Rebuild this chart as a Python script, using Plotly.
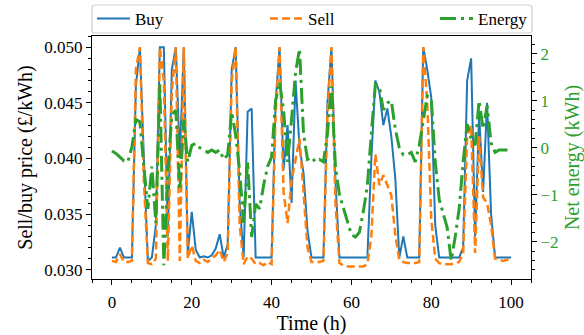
import plotly.graph_objects as go

hours = list(range(0, 101))

buy_price = [
    0.0311, 0.0311, 0.0320, 0.0311, 0.0311, 0.0311, 0.0465, 0.0500, 0.0400, 0.0308,
    0.0311, 0.0340, 0.0500, 0.0500, 0.0330, 0.0480, 0.0500, 0.0400, 0.0500, 0.0315,
    0.0352, 0.0318, 0.0311, 0.0312, 0.0311, 0.0313, 0.0319, 0.0332, 0.0311, 0.0323,
    0.0480, 0.0500, 0.0360, 0.0311, 0.0442, 0.0445, 0.0311, 0.0311, 0.0311, 0.0311,
    0.0311, 0.0450, 0.0500, 0.0390, 0.0430, 0.0360, 0.0470, 0.0410, 0.0387, 0.0335,
    0.0311, 0.0311, 0.0311, 0.0311, 0.0450, 0.0500, 0.0380, 0.0311, 0.0311, 0.0311,
    0.0311, 0.0311, 0.0311, 0.0311, 0.0311, 0.0400, 0.0470, 0.0460, 0.0430, 0.0445,
    0.0420, 0.0382, 0.0311, 0.0330, 0.0311, 0.0311, 0.0311, 0.0311, 0.0500, 0.0480,
    0.0455, 0.0340, 0.0311, 0.0311, 0.0311, 0.0311, 0.0311, 0.0311, 0.0320, 0.0470,
    0.0490, 0.0330, 0.0440, 0.0370, 0.0450, 0.0350, 0.0311, 0.0311, 0.0311, 0.0311,
    0.0311,
]

sell_price = [
    0.0308, 0.0307, 0.0314, 0.0307, 0.0307, 0.0308, 0.0480, 0.0500, 0.0380, 0.0306,
    0.0305, 0.0310, 0.0500, 0.0470, 0.0308, 0.0460, 0.0500, 0.0308, 0.0500, 0.0310,
    0.0322, 0.0308, 0.0306, 0.0309, 0.0307, 0.0310, 0.0313, 0.0318, 0.0307, 0.0315,
    0.0470, 0.0500, 0.0340, 0.0305, 0.0312, 0.0310, 0.0305, 0.0306, 0.0304, 0.0307,
    0.0305, 0.0440, 0.0500, 0.0370, 0.0342, 0.0380, 0.0400, 0.0418, 0.0370, 0.0320,
    0.0307, 0.0307, 0.0307, 0.0308, 0.0440, 0.0500, 0.0360, 0.0306, 0.0304, 0.0303,
    0.0303, 0.0303, 0.0303, 0.0303, 0.0305, 0.0330, 0.0404, 0.0376, 0.0385, 0.0376,
    0.0367, 0.0331, 0.0309, 0.0307, 0.0306, 0.0306, 0.0306, 0.0307, 0.0500, 0.0451,
    0.0346, 0.0310, 0.0306, 0.0305, 0.0305, 0.0305, 0.0306, 0.0307, 0.0315, 0.0420,
    0.0430, 0.0315, 0.0420, 0.0365, 0.0360, 0.0340, 0.0310, 0.0309, 0.0308, 0.0309,
    0.0309,
]

net_energy = [
    -0.07, -0.12, -0.20, -0.28, -0.30, 0.02, 0.60, 0.55, -0.40, -1.30,
    -0.40, -1.60, 1.35, -2.50, -0.50, 0.70, 0.80, -0.90, 0.60, -0.30,
    0.05, 0.09, 0.00, -0.05, -0.10, -0.05, -0.10, -0.05, -0.25, -0.15,
    0.76, 0.27, -0.50, -1.60, -0.30, -1.90, -1.20, -1.30, -0.80, -0.40,
    -0.20, 1.00, 1.40, 0.80, -0.30, 0.60, 1.60, 2.10, 0.30, -0.25,
    -0.20, -0.30, -0.25, -0.30, 0.30, 1.30, -0.40, -1.00, -1.30, -1.60,
    -1.85, -1.90, -1.80, -1.35, -0.80, 0.30, 1.35, 1.30, 0.80, 0.95,
    1.00, 0.40, 0.00, -0.15, -0.15, -0.10, -0.30, 0.05, 0.60, 1.10,
    1.05, -0.30, -1.10, -1.40, -1.70, -2.40, -1.90, -1.30, -0.30, 0.50,
    0.20, 0.05, 1.00, 0.40, 0.90, 0.10, -0.10, -0.05, -0.05, -0.05,
    -0.05,
]

FONT = "Liberation Serif"
GREEN = "#2ca02c"

fig = go.Figure()
fig.add_trace(go.Scatter(x=hours, y=buy_price, name="Buy", mode="lines", legend="legend",
                         line=dict(color="#1f77b4", width=2)))
fig.add_trace(go.Scatter(x=hours, y=sell_price, name="Sell", mode="lines", legend="legend2",
                         line=dict(color="#ff7f0e", width=2.5, dash="8px,4px")))
fig.add_trace(go.Scatter(x=hours, y=net_energy, name="Energy", mode="lines", yaxis="y2",
                         legend="legend3",
                         line=dict(color=GREEN, width=3, dash="16px,5px,3px,5px")))

# legend frame (paper coords; plot area is 439 x 243 px)
PW, PH = 439.0, 243.0
x0, x1 = 0.0, 440.0 / PW
y0 = (279.0 - 33.0) / PH
y1 = (279.0 - 5.0) / PH
rx, ry = 3.0 / PW, 3.0 / PH
frame_path = (
    f"M {x0+rx},{y1} L {x1-rx},{y1} Q {x1},{y1} {x1},{y1-ry} "
    f"L {x1},{y0+ry} Q {x1},{y0} {x1-rx},{y0} "
    f"L {x0+rx},{y0} Q {x0},{y0} {x0},{y0+ry} "
    f"L {x0},{y1-ry} Q {x0},{y1} {x0+rx},{y1} Z"
)

leg_common = dict(orientation="h", yanchor="middle", y=(279.0 - 19.0) / PH, xanchor="left",
                  bgcolor="rgba(0,0,0,0)", borderwidth=0, itemwidth=33,
                  font=dict(family=FONT, size=17, color="black"))

fig.update_layout(
    width=584, height=335,
    margin=dict(l=92, r=53, t=36, b=56, autoexpand=False),
    paper_bgcolor="white", plot_bgcolor="white",
    font=dict(family=FONT, size=17, color="black"),
    showlegend=True,
    legend=dict(x=(92 - 92) / PW, **leg_common),
    legend2=dict(x=(265 - 92) / PW, **leg_common),
    legend3=dict(x=(435 - 92) / PW, **leg_common),
    shapes=[dict(type="path", xref="paper", yref="paper", path=frame_path,
                 line=dict(color="#d0d0d0", width=1.2), fillcolor="white", layer="below")],
    xaxis=dict(range=[-5, 105], tickvals=[0, 20, 40, 60, 80, 100],
               ticks="outside", ticklen=5, tickwidth=1, tickcolor="black",
               ticklabelstandoff=3, automargin=False,
               minor=dict(dtick=5, tick0=0, ticks="outside", ticklen=3, tickcolor="black"),
               showline=True, linecolor="black", linewidth=1, mirror=True,
               showgrid=False, zeroline=False,
               title=dict(text="Time (h)", standoff=8)),
    yaxis=dict(range=[0.02917, 0.05101], tickvals=[0.030, 0.035, 0.040, 0.045, 0.050],
               tickformat=".3f", automargin=False,
               ticks="outside", ticklen=5, tickwidth=1, tickcolor="black",
               minor=dict(dtick=0.001, tick0=0.030, ticks="outside", ticklen=3, tickcolor="black"),
               showline=True, linecolor="black", linewidth=1,
               showgrid=False, zeroline=False,
               title=dict(text="Sell/buy price (£/kWh)", standoff=6)),
    yaxis2=dict(overlaying="y", side="right", range=[-2.794, 2.377],
                tickvals=[-2, -1, 0, 1, 2], automargin=False,
                ticks="outside", ticklen=5, tickwidth=1, tickcolor="black",
                minor=dict(dtick=0.2, tick0=0, ticks="outside", ticklen=3, tickcolor="black"),
                showline=True, linecolor="black", linewidth=1,
                showgrid=False, zeroline=False,
                tickfont=dict(color=GREEN),
                title=dict(text="Net energy (kWh)", font=dict(color=GREEN), standoff=16)),
)

fig.write_html("out.html")
